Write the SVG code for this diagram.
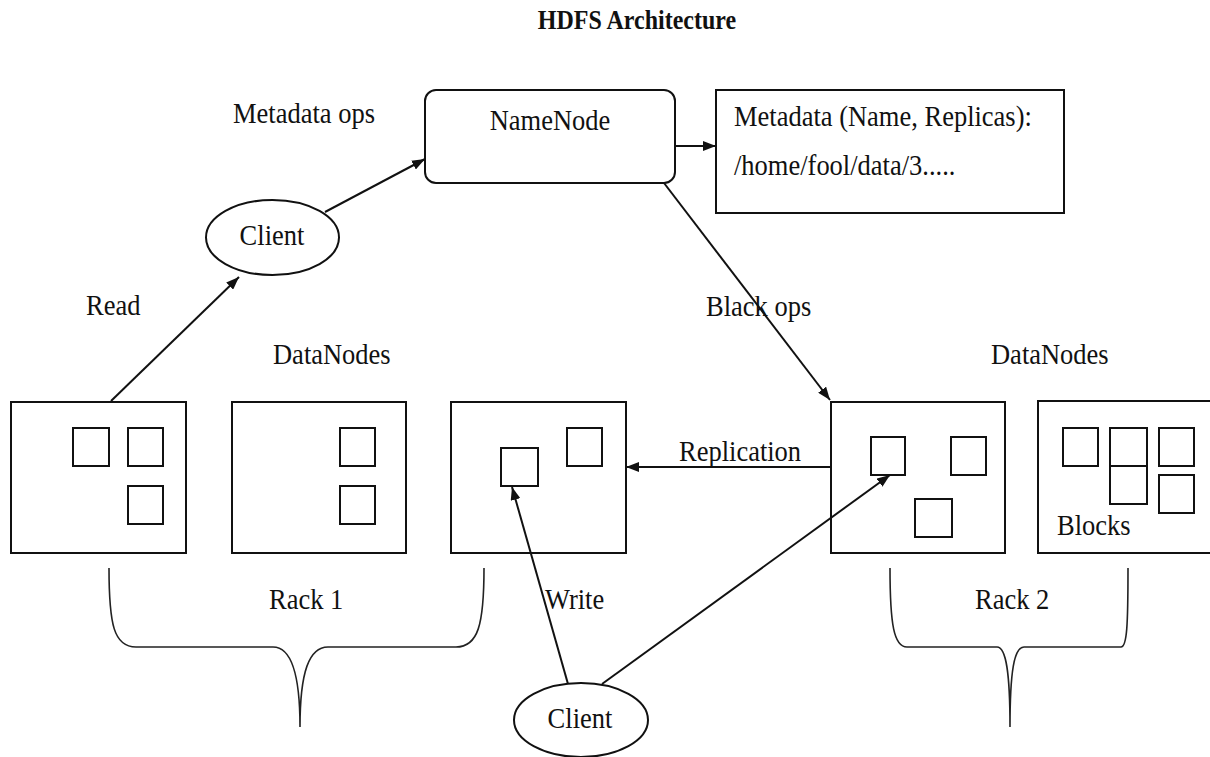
<svg xmlns="http://www.w3.org/2000/svg" width="1210" height="757" viewBox="0 0 1210 757">
<defs>
<style>
text{font-family:"Liberation Serif","Times New Roman",serif;font-size:26.5px;fill:#111;transform-box:fill-box;transform-origin:50% 50%;transform:scaleY(1.1)}
.title{font-weight:bold;font-size:24px}
.box{fill:#fff;stroke:#111;stroke-width:2}
.blk{fill:none;stroke:#111;stroke-width:2}
.edge{fill:none;stroke:#111;stroke-width:2;marker-end:url(#arr)}
.brace{fill:none;stroke:#222;stroke-width:1.6}
</style>
<marker id="arr" markerUnits="userSpaceOnUse" markerWidth="14" markerHeight="10" refX="13" refY="5" orient="auto">
<path d="M0,0 L13,5 L0,10 z" fill="#111"/>
</marker>
</defs>
<rect width="1210" height="757" fill="#fff"/>
<text class="title" x="637" y="28" text-anchor="middle">HDFS Architecture</text>

<g id="namenode">
<rect class="box" x="425" y="90" width="250" height="93" rx="11"/>
<text x="550" y="129" text-anchor="middle">NameNode</text>
</g>
<g id="metadata">
<rect class="box" x="716" y="90" width="348" height="123"/>
<text x="734" y="125">Metadata (Name, Replicas):</text>
<text x="734" y="174">/home/fool/data/3.....</text>
</g>
<g id="client-top">
<ellipse class="box" cx="272.5" cy="237.5" rx="66.5" ry="37.5"/>
<text x="272" y="244" text-anchor="middle">Client</text>
</g>
<g id="client-bottom">
<ellipse class="box" cx="581" cy="720" rx="67" ry="37"/>
<text x="580" y="727" text-anchor="middle">Client</text>
</g>

<g id="datanode1">
<rect class="box" x="11" y="402" width="175" height="151"/>
<rect class="blk" x="73" y="428" width="36" height="38"/>
<rect class="blk" x="128" y="428" width="35" height="38"/>
<rect class="blk" x="128" y="486" width="35" height="38"/>
</g>
<g id="datanode2">
<rect class="box" x="232" y="402" width="174" height="151"/>
<rect class="blk" x="340" y="428" width="35" height="38"/>
<rect class="blk" x="340" y="486" width="35" height="38"/>
</g>
<g id="datanode3">
<rect class="box" x="451" y="402" width="175" height="151"/>
<rect class="blk" x="501" y="448" width="37" height="38"/>
<rect class="blk" x="567" y="428" width="35" height="38"/>
</g>
<g id="datanode4">
<rect class="box" x="831" y="402" width="174" height="151"/>
<rect class="blk" x="871" y="437" width="34" height="38"/>
<rect class="blk" x="951" y="437" width="35" height="38"/>
<rect class="blk" x="915" y="499" width="37" height="38"/>
</g>
<g id="datanode5">
<rect class="box" x="1038" y="401" width="180" height="152"/>
<rect class="blk" x="1063" y="428" width="35" height="38"/>
<rect class="blk" x="1110" y="428" width="37" height="38"/>
<rect class="blk" x="1110" y="466" width="37" height="38"/>
<rect class="blk" x="1159" y="428" width="35" height="38"/>
<rect class="blk" x="1159" y="475" width="35" height="38"/>
<text x="1057" y="534">Blocks</text>
</g>

<g id="labels">
<text x="233" y="122">Metadata ops</text>
<text x="86" y="314">Read</text>
<text x="273" y="363">DataNodes</text>
<text x="991" y="363">DataNodes</text>
<text x="706" y="315">Black ops</text>
<text x="679" y="460">Replication</text>
<text x="269" y="608">Rack 1</text>
<text x="545" y="608">Write</text>
<text x="975" y="608">Rack 2</text>
</g>

<g id="racks">
<path class="brace" d="M109,568 C109,625 114,647 136,647 L273,647 C291,647 300,672 300,727 C300,672 309,647 328,647 L456,647 C478,647 484,625 484,568"/>
<path class="brace" d="M890,568 C890,625 894,647 907,647 L997,647 C1006,647 1010,672 1010,727 C1010,672 1014,647 1024,647 L1121,647 C1127,647 1128,625 1128,568"/>
</g>

<g id="connectors">
<line class="edge" x1="325" y1="212" x2="425" y2="159"/>
<line class="edge" x1="111" y1="401" x2="239" y2="277"/>
<line class="edge" x1="675" y1="146" x2="716" y2="146"/>
<line class="edge" x1="664" y1="183" x2="830" y2="400"/>
<line class="edge" x1="831" y1="467" x2="626" y2="467"/>
<line class="edge" x1="568" y1="684" x2="512" y2="487"/>
<line class="edge" x1="602" y1="684" x2="890" y2="475"/>
</g>
</svg>
